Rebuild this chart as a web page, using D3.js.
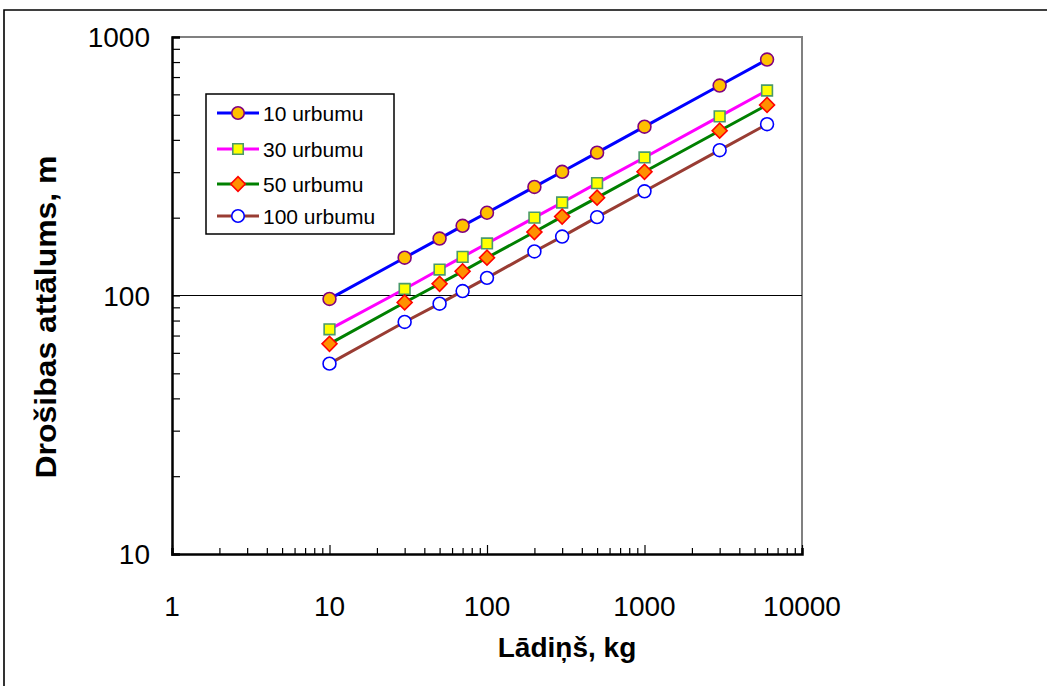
<!DOCTYPE html>
<html>
<head>
<meta charset="utf-8">
<script src="https://cdn.jsdelivr.net/npm/d3@7"></script>
<style>
  body { margin: 0; background: #fff; }
  svg { display: block; font-family: "Liberation Sans", Arial, sans-serif; }
</style>
</head>
<body>
<div id="chart"></div>
<script>
// Data
const charge = [10, 30, 50, 70, 100, 200, 300, 500, 1000, 3000, 6000];
const s10 = [97, 140, 166, 186, 209, 263, 301, 357, 450, 649, 818];
const s30 = [74, 106, 126, 141, 159, 200, 229, 272, 342, 493, 621];
const s50 = [65, 94, 111, 124, 140, 176, 202, 239, 301, 434, 546];
const s100 = [54.5, 79, 93, 104, 117, 148, 169, 201, 253, 365, 460];
const seriesNames = ["10 urbumu", "30 urbumu", "50 urbumu", "100 urbumu"];
const xTickLabels = [1, 10, 100, 1000, 10000];
const yTickLabels = [10, 100, 1000];

const width = 1047, height = 686;
const plotL = 172, plotR = 802, plotT = 37, plotB = 554;

const styles = [
  { line: "#0000ff", shape: "circle", fill: "#ffc000", stroke: "#800080" },
  { line: "#ff00ff", shape: "square", fill: "#ffff00", stroke: "#4a9a6a" },
  { line: "#008000", shape: "diamond", fill: "#ff9000", stroke: "#ff0000" },
  { line: "#993c33", shape: "circle", fill: "#ffffff", stroke: "#0000ff" }
];
const values = [s10, s30, s50, s100];

const svg = d3.select("#chart").append("svg")
  .attr("width", width).attr("height", height);

svg.append("rect").attr("width", width).attr("height", height).attr("fill", "#fff");

// outer frame (cropped on right/bottom)
svg.append("path")
  .attr("d", `M4,${height + 5} L4,10 L${width + 5},10`)
  .attr("fill", "none").attr("stroke", "#000").attr("stroke-width", 1.6);

const x = d3.scaleLog().domain([1, 10000]).range([plotL, plotR]);
const y = d3.scaleLog().domain([10, 1000]).range([plotB, plotT]);

// plot frame top/right in gray
svg.append("path")
  .attr("d", `M${plotL},${plotT} L${plotR},${plotT} L${plotR},${plotB}`)
  .attr("fill", "none").attr("stroke", "#808080").attr("stroke-width", 2);

// gridline at 100
svg.append("line")
  .attr("x1", plotL).attr("x2", plotR)
  .attr("y1", y(100)).attr("y2", y(100))
  .attr("stroke", "#000").attr("stroke-width", 1.2);

const isMajor = v => Math.abs(Math.log10(v) - Math.round(Math.log10(v))) < 1e-9;

// x axis
const xAxis = svg.append("g")
  .attr("transform", `translate(0,${plotB})`)
  .call(d3.axisBottom(x).tickValues(x.ticks()).tickFormat("").tickSizeOuter(0).tickSize(-6));
xAxis.select(".domain").attr("stroke", "#000").attr("stroke-width", 2.5);
xAxis.selectAll(".tick line").attr("stroke", "#000").attr("stroke-width", 1.2)
  .attr("y2", d => isMajor(d) ? -9 : -6);

// y axis
const yAxis = svg.append("g")
  .attr("transform", `translate(${plotL},0)`)
  .call(d3.axisLeft(y).tickValues(y.ticks()).tickFormat("").tickSizeOuter(0).tickSize(-8));
yAxis.select(".domain").attr("stroke", "#000").attr("stroke-width", 2.5);
yAxis.selectAll(".tick line").attr("stroke", "#000").attr("stroke-width", 1.2);

// tick labels
svg.append("g").selectAll("text").data(xTickLabels).join("text")
  .attr("x", d => x(d)).attr("y", 616)
  .attr("text-anchor", "middle").attr("font-size", 28).attr("fill", "#000")
  .text(d => d);
svg.append("g").selectAll("text").data(yTickLabels).join("text")
  .attr("x", 150).attr("y", d => y(d) + 10)
  .attr("text-anchor", "end").attr("font-size", 28).attr("fill", "#000")
  .text(d => d);

// axis titles
svg.append("text")
  .attr("x", 567).attr("y", 657)
  .attr("text-anchor", "middle").attr("font-size", 28).attr("font-weight", "bold")
  .text("Lādiņš, kg");
svg.append("text")
  .attr("transform", "translate(56,317) rotate(-90)")
  .attr("text-anchor", "middle").attr("font-size", 29).attr("font-weight", "bold")
  .attr("textLength", 323).attr("lengthAdjust", "spacingAndGlyphs")
  .text("Drošibas attālums, m");

// markers
const symbolFor = shape => shape === "circle" ? d3.symbolCircle : d3.symbolSquare;
const sizeFor = shape => shape === "circle" ? 130 : shape === "square" ? 115 : 112;
const rotFor = shape => shape === "diamond" ? " rotate(45)" : "";

const line = d3.line().x(d => x(d[0])).y(d => y(d[1]));

values.forEach((vals, i) => {
  const st = styles[i];
  const pts = charge.map((c, j) => [c, vals[j]]);
  svg.append("path").datum(pts)
    .attr("d", line)
    .attr("fill", "none").attr("stroke", st.line).attr("stroke-width", 3);
});
values.forEach((vals, i) => {
  const st = styles[i];
  const pts = charge.map((c, j) => [c, vals[j]]);
  svg.append("g").selectAll("path").data(pts).join("path")
    .attr("transform", d => `translate(${x(d[0])},${y(d[1])})${rotFor(st.shape)}`)
    .attr("d", d3.symbol(symbolFor(st.shape), sizeFor(st.shape)))
    .attr("fill", st.fill).attr("stroke", st.stroke).attr("stroke-width", 1.6);
});

// legend
const legend = svg.append("g");
legend.append("rect")
  .attr("x", 206).attr("y", 94).attr("width", 188).attr("height", 140)
  .attr("fill", "#fff").attr("stroke", "#000").attr("stroke-width", 1.5);
const rowY = [113, 149, 184, 216];
seriesNames.forEach((name, i) => {
  const st = styles[i];
  const g = legend.append("g").attr("transform", `translate(0,${rowY[i]})`);
  g.append("line").attr("x1", 217).attr("x2", 259)
    .attr("stroke", st.line).attr("stroke-width", 3);
  g.append("path").attr("transform", `translate(238,0)${rotFor(st.shape)}`)
    .attr("d", d3.symbol(symbolFor(st.shape), sizeFor(st.shape) * 0.95))
    .attr("fill", st.fill).attr("stroke", st.stroke).attr("stroke-width", 1.6);
  g.append("text").attr("x", 263).attr("y", 7.5)
    .attr("font-size", 21).attr("fill", "#000")
    .text(name);
});
</script>
</body>
</html>
